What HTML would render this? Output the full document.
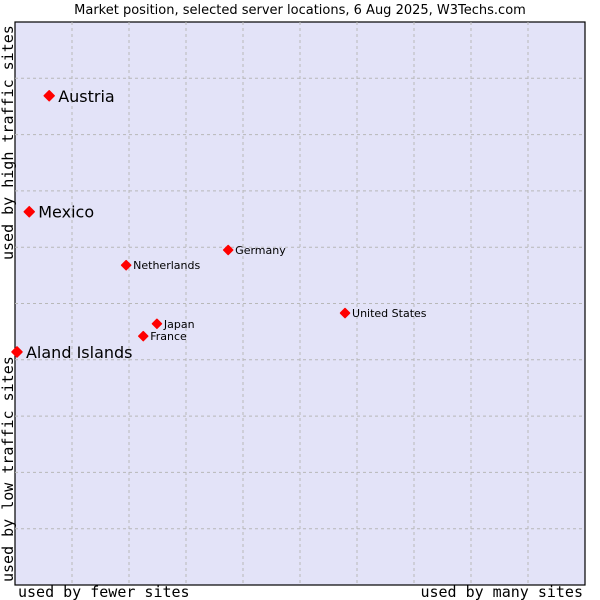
<!DOCTYPE html>
<html><head><meta charset="utf-8"><style>
html,body{margin:0;padding:0;background:#fff;width:600px;height:600px;overflow:hidden}
svg text{font-family:"DejaVu Sans",sans-serif;fill:#000}
.mono{font-family:"DejaVu Sans Mono",monospace}
</style></head><body>
<svg id="chart" width="600" height="600">
<text x="300" y="14" text-anchor="middle" font-size="13">Market position, selected server locations, 6 Aug 2025, W3Techs.com</text>
<rect x="15" y="22" width="570" height="563" fill="#e3e3f8" stroke="#000" stroke-width="1.2"/>
<g id="grid"></g>
<g id="points"></g>
<text class="mono" x="18" y="597" font-size="15">used by fewer sites</text>
<text class="mono" x="583" y="597" font-size="15" text-anchor="end">used by many sites</text>
<text class="mono" transform="translate(13,260) rotate(-90)" font-size="15">used by high traffic sites</text>
<text class="mono" transform="translate(13,582) rotate(-90)" font-size="15">used by low traffic sites</text>
</svg>
<script>
const countries=["Austria","Mexico","Aland Islands","Netherlands","Germany","United States","Japan","France"];
const xValues=[6,2.5,0.35,19.5,37.4,57.9,24.9,22.5];
const yValues=[86.9,66.3,41.4,56.8,59.5,48.3,46.4,44.2];
const highlighted=[true,true,true,false,false,false,false,false];
const X0=15,X1=585,Y0=585,Y1=22;
function sx(v){return X0+v/100*(X1-X0);}
function sy(v){return Y0-v/100*(Y0-Y1);}
const NS="http://www.w3.org/2000/svg";
const grid=document.getElementById('grid');
for(let i=1;i<10;i++){
  const v=document.createElementNS(NS,'line');
  v.setAttribute('x1',sx(i*10));v.setAttribute('x2',sx(i*10));v.setAttribute('y1',Y1);v.setAttribute('y2',Y0);
  v.setAttribute('stroke','#b8b8b8');v.setAttribute('stroke-dasharray','3,3');
  
  
  grid.appendChild(v);
  const h=document.createElementNS(NS,'line');
  h.setAttribute('y1',sy(i*10));h.setAttribute('y2',sy(i*10));h.setAttribute('x1',X0);h.setAttribute('x2',X1);
  h.setAttribute('stroke','#b8b8b8');h.setAttribute('stroke-dasharray','3,3');
  
  
  grid.appendChild(h);
}
const pts=document.getElementById('points');
countries.forEach((c,i)=>{
  const x=sx(xValues[i]),y=sy(yValues[i]);
  const d=document.createElementNS(NS,'path');
  const r=highlighted[i]?5:4.5;
  d.setAttribute('d',`M${x-r},${y}L${x},${y-r}L${x+r},${y}L${x},${y+r}Z`);
  d.setAttribute('fill','#ff0000');
  d.setAttribute('stroke','#ff0000');d.setAttribute('stroke-linejoin','round');d.setAttribute('stroke-width','1.5');
  
  
  pts.appendChild(d);
  const t=document.createElementNS(NS,'text');
  t.setAttribute('x',x+(highlighted[i]?9:7));
  t.setAttribute('y',y+(highlighted[i]?6:4));
  t.setAttribute('font-size',highlighted[i]?'16':'11');
  t.textContent=c;
  
  
  pts.appendChild(t);
});
</script>
</body></html>
